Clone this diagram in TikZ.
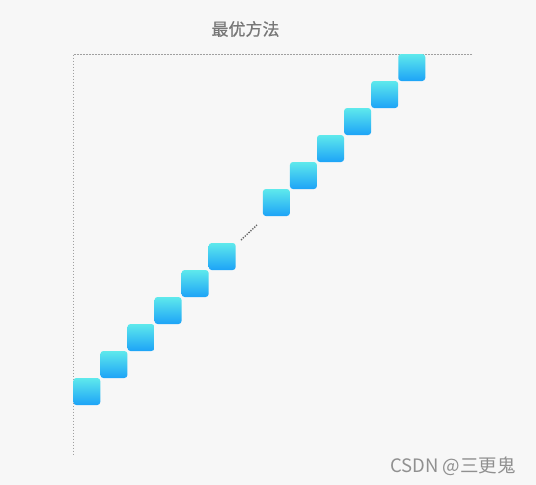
\documentclass[tikz,border=0pt]{standalone}
\usepackage{fontspec}
\newfontfamily\cjk[FakeBold=0.7]{Noto Sans CJK SC}
\newfontfamily\cjkwm{Noto Sans CJK SC}
\begin{document}
\begin{tikzpicture}[x=1pt,y=-1pt,
  cell/.style={minimum size=27pt,inner sep=0pt,rounded corners=3pt,
    top color=topcyan,bottom color=botblue,draw=none},
  guide/.style={draw=guidegray,line width=0.8pt,dash pattern=on 1.6pt off 1.4pt},
  gap/.style={draw=dotgray,line width=1.4pt,dash pattern=on 1.3pt off 1.3pt},
  title/.style={font=\cjk\fontsize{17}{19}\selectfont,text=titlegray,inner sep=0pt},
  wm/.style={font=\cjkwm\fontsize{18.5}{20}\selectfont,text=wmgray,inner sep=0pt}]
\definecolor{bg}{HTML}{F7F7F7}
\definecolor{topcyan}{HTML}{5EE9EC}
\definecolor{botblue}{HTML}{1DA3F7}
\definecolor{guidegray}{HTML}{A0A0A0}
\definecolor{dotgray}{HTML}{666666}
\definecolor{titlegray}{HTML}{777777}
\definecolor{wmgray}{HTML}{909090}
\fill[bg] (0,0) rectangle (536,485);
\useasboundingbox (0,0) rectangle (536,485);
\node[title] (t) at (245.5,29) {最优方法};
\coordinate (o) at (73.5,54);
\coordinate (hx) at (472,54);
\coordinate (vy) at (73.5,454);
\draw[guide] (hx) -- (o) -- (vy);
\foreach \i in {0,...,5,7,8,...,12}{
  \node[cell] (c\i) at ({73.3+27.08*\i+13.5},{378-27*\i+13.5}) {};
}
\coordinate (g1) at (241,240);
\coordinate (g2) at (257,225);
\draw[gap] (g1) -- (g2);
\node[wm] (w) at (453,466) {CSDN @三更鬼};
\end{tikzpicture}
\end{document}
